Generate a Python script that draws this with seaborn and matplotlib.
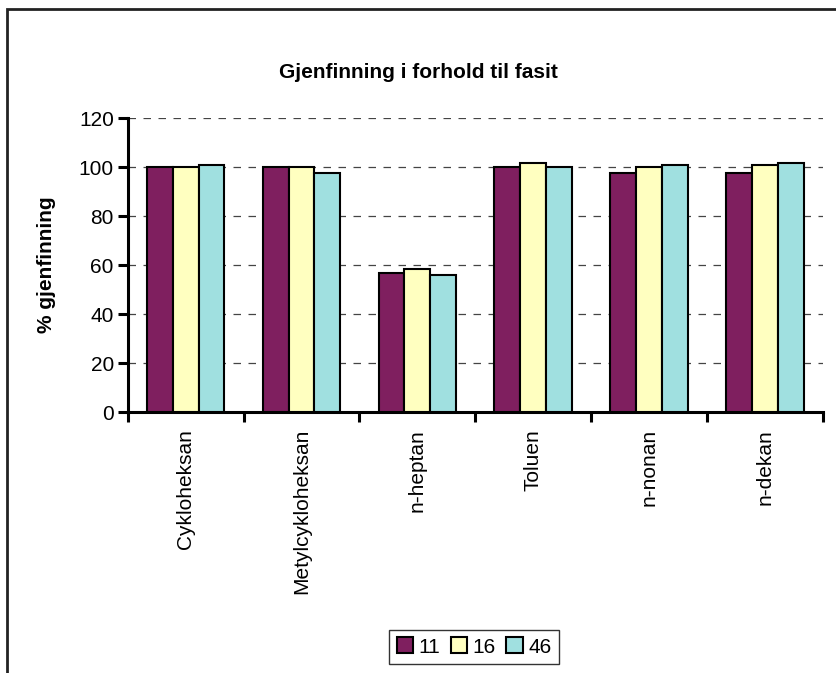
import numpy as np
import pandas as pd
import matplotlib
matplotlib.use("Agg")
import matplotlib.pyplot as plt
from matplotlib.patches import Rectangle
from matplotlib.ticker import FixedLocator
import seaborn as sns

# ── data ─────────────────────────────────────
categories = ["Cykloheksan", "Metylcykloheksan", "n-heptan", "Toluen", "n-nonan", "n-dekan"]
series = ["11", "16", "46"]
vals_11 = [100.0, 100.0, 56.9, 100.0, 97.7, 97.7]
vals_16 = [100.0, 100.0, 58.5, 101.8, 100.0, 101.0]
vals_46 = [101.0, 97.7, 56.1, 100.0, 101.0, 101.8]
colors = ["#7F1F5F", "#FFFFC0", "#A0E0E0"]

df = pd.DataFrame({
    "kategori": categories * 3,
    "serie": [s for s in series for _ in categories],
    "verdi": vals_11 + vals_16 + vals_46,
})

sns.set_style("white")
plt.rcParams["font.family"] = ["Liberation Sans", "DejaVu Sans"]
plt.rcParams["text.color"] = "black"
plt.rcParams["xtick.color"] = "black"
plt.rcParams["ytick.color"] = "black"

fig = plt.figure(figsize=(8.36, 6.73), dpi=100)
ax = fig.add_axes([0.1527, 0.3874, 0.8318, 0.4368])

sns.barplot(data=df, x="kategori", y="verdi", hue="serie", order=categories,
            hue_order=series, palette=colors, saturation=1, width=0.67, gap=0,
            edgecolor="black", linewidth=1.5, ax=ax, legend=True, zorder=3)

ax.set_xlim(-0.5, len(categories) - 0.5)
ax.set_ylim(0, 120)
ax.set_yticks(np.arange(0, 121, 20))
ax.set_xlabel("")
ax.set_ylabel("")

# dashed grid
for y in range(20, 121, 20):
    ax.axhline(y, color="#444444", linestyle=(0, (6, 6)), linewidth=0.9, zorder=1)

for side in ["top", "right"]:
    ax.spines[side].set_visible(False)
for side in ["left", "bottom"]:
    ax.spines[side].set_linewidth(2.2)
    ax.spines[side].set_color("black")

ax.tick_params(axis="y", which="major", direction="out", length=7, width=2.2,
               labelsize=15, pad=3, left=True)
ax.tick_params(axis="x", which="major", length=0, labelsize=15, pad=12,
               labelrotation=90)
ax.xaxis.set_minor_locator(FixedLocator(np.arange(-0.5, len(categories), 1.0)))
ax.tick_params(axis="x", which="minor", direction="out", length=7, width=2.2, bottom=True)
for lbl in ax.get_xticklabels():
    lbl.set_va("top")
    lbl.set_ha("center")

fig.text(0.5, 0.893, "Gjenfinning i forhold til fasit", ha="center", va="center",
         fontsize=15, fontweight="bold")
fig.text(0.056, 0.606, "% gjenfinning", ha="center", va="center", rotation=90,
         fontsize=15, fontweight="bold")

handles, labels = ax.get_legend_handles_labels()
ax.legend_.remove()
leg = fig.legend(handles, labels, loc="center", bbox_to_anchor=(0.567, 0.0386),
                 ncol=3, frameon=True, fontsize=15, handlelength=0.8,
                 handleheight=0.8, handletextpad=0.25, columnspacing=0.5,
                 borderpad=0.35, borderaxespad=0, fancybox=False)
leg.get_frame().set_edgecolor("black")
leg.get_frame().set_linewidth(1.0)

# outer chart border (left and top edges visible)
fig.patches.append(Rectangle((7 / 836, -0.1), 1.2, 1 - 9 / 673 + 0.1,
                             transform=fig.transFigure, fill=False,
                             edgecolor="#222222", linewidth=2.0))

fig.savefig("out.png", dpi=100)
